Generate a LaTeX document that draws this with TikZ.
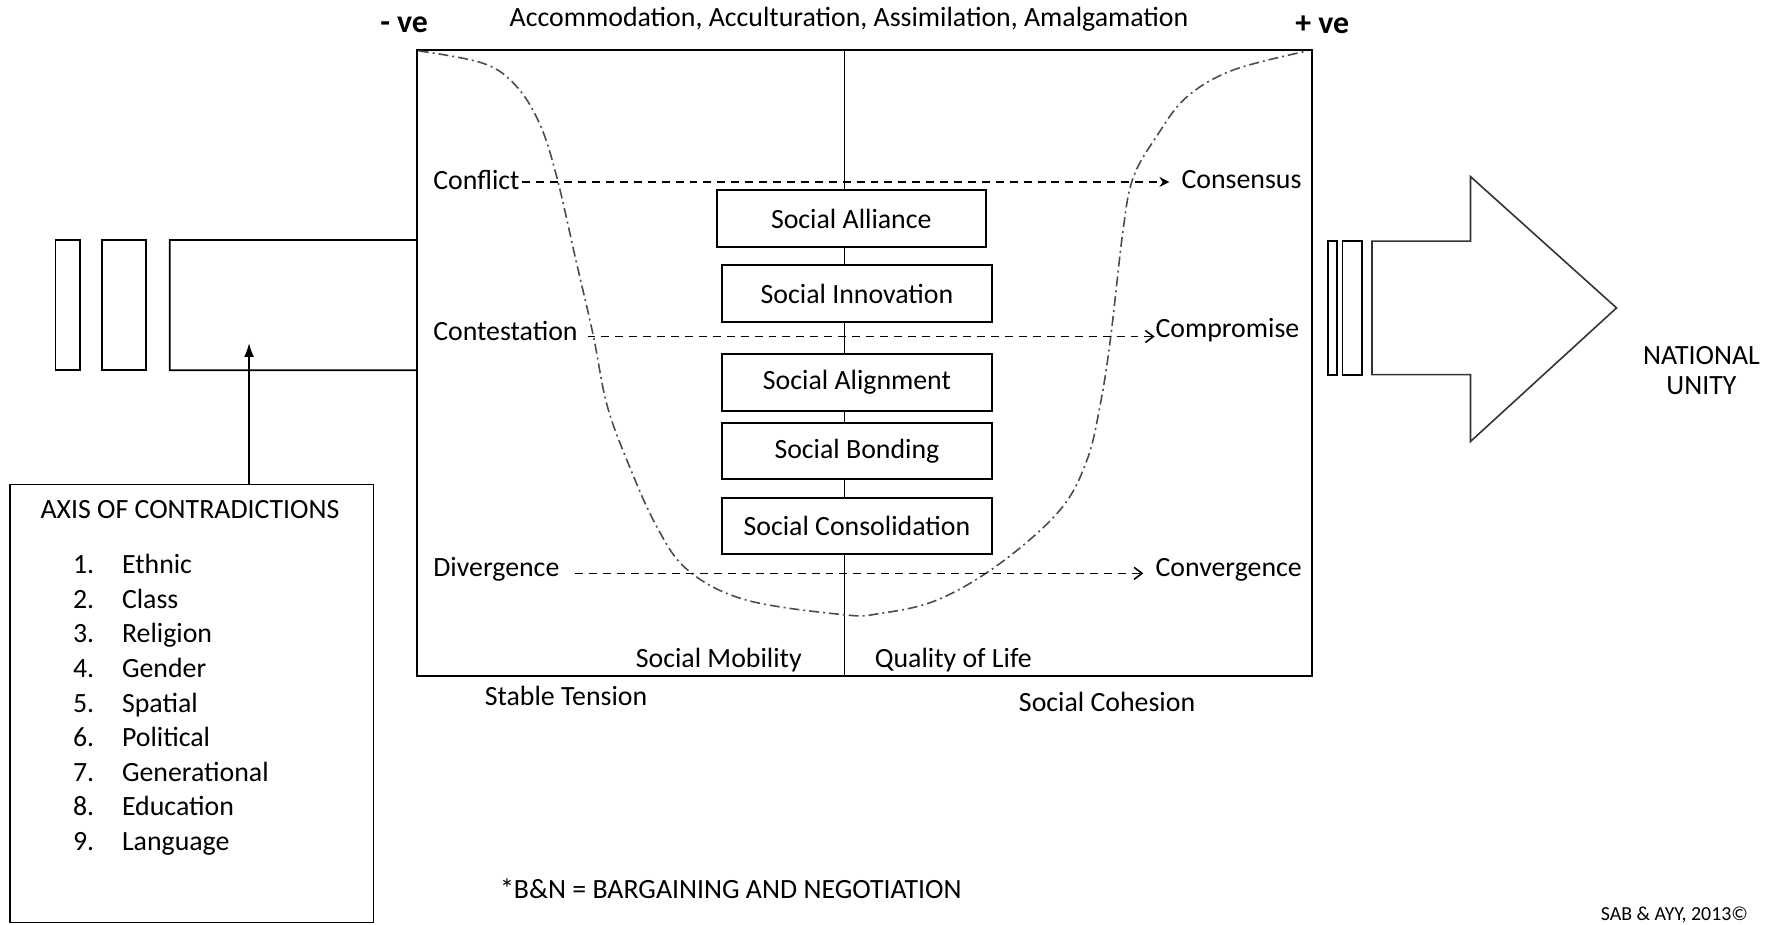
\documentclass[tikz,border=0pt]{standalone}
\usepackage{fontspec}
\setmainfont{Carlito}
\usetikzlibrary{arrows.meta}
\usetikzlibrary{graphs}
\tikzset{
  lbl/.style= {inner sep=0, font=\fontsize{14}{15}\selectfont},
  sbox/.style= {draw, fill=white, line width=1pt, minimum width=4.76cm, minimum height=1cm, inner sep=0, font=\fontsize{14}{15}\selectfont},
  sign/.style= {inner sep=0, font=\fontsize{16}{18}\selectfont\bfseries},
  plain/.style= {draw, inner sep=0, outer sep=0},
  move/.style= {line width=0.8pt, dash pattern=on 4pt off 3pt, -{Straight Barb[length=4pt,width=6pt]}},
  udash/.style= {line width=0.8pt, black!70, dash pattern=on 5pt off 2pt on 1pt off 2pt},
}

\begin{document}
\begin{tikzpicture}[x=0.02cm, y=-0.02cm, line width=0.9pt]
  \useasboundingbox (0,0) rectangle (1568,817);

  \node [plain, minimum width=15.82cm, minimum height=11.06cm] (frame) at (763.5,320.5) {};
  \coordinate (mtop) at (746,44);
  \coordinate (mbot) at (746,597);
  \draw (mtop) -- (mbot);

  \node [sign] (neg) at (357,22) {- ve};
  \node [sign] (pos) at (1168,22) {+ ve};
  \node [lbl] (stages) at (750,17) {Accommodation, Acculturation, Assimilation, Amalgamation};

  \draw [udash] plot [smooth, tension=0.6] coordinates {(370,45) (427,56) (456,76) (477,110) (492,157) (509,231) (524,296) (536,357) (554,407) (580,465) (608,504) (659,530) (745,543) (777,542) (828,530) (883,498) (936,451) (960,407) (972,357) (981,299) (992,204) (1001,157) (1022,120) (1048,86) (1089,62) (1155,45)};

  \node [sbox] (alliance) at (752,193) {Social Alliance};
  \node [sbox] (innovation) at (757,259.5) {Social Innovation};
  \node [sbox] (alignment) at (757,338) {Social Alignment};
  \node [sbox] (bonding) at (757,398.5) {Social Bonding};
  \node [sbox] (consolidation) at (757,464.5) {Social Consolidation};

  \node [lbl, anchor=west] (conflict) at (382,159) {Conflict};
  \node [lbl, anchor=west] (consensus) at (1043,159) {Consensus};
  \node [lbl, anchor=west] (contest) at (382,292) {Contestation};
  \node [lbl, anchor=west] (compromise) at (1020,292) {Compromise};
  \node [lbl, anchor=west] (diverge) at (382,503) {Divergence};
  \node [lbl, anchor=west] (converge) at (1020,503) {Convergence};

  \draw [move, -{Stealth[length=5pt,width=5pt]}] ([xshift=1pt, yshift=-1pt]conflict.east) -- ([xshift=-0.2cm, yshift=-1pt]consensus.west);
  \draw [move] ([xshift=0.16cm, yshift=-3pt]contest.east) -- ([yshift=-3pt]compromise.west);
  \draw [move] ([xshift=0.26cm, yshift=-2pt]diverge.east) -- ([xshift=-0.2cm, yshift=-2pt]converge.west);

  \node [lbl, anchor=east] (mobility) at (709,583) {Social Mobility};
  \node [lbl, anchor=west] (quality) at (772,583) {Quality of Life};
  \node [lbl] (tension) at (500,615) {Stable Tension};
  \node [lbl] (cohesion) at (978,620) {Social Cohesion};

  \node [plain, minimum width=0.44cm, minimum height=2.3cm] (l1) at (60,269.5) {};
  \node [plain, minimum width=0.78cm, minimum height=2.3cm] (l2) at (109.5,269.5) {};
  \draw (frame.west |- l1.north) -| (150,327) -- (frame.west |- l1.south);

  \node [plain, minimum width=6.42cm, minimum height=7.74cm] (axis) at (169.5,621.5) {};
  \draw [-{Latex[length=7pt, width=5pt]}] (axis.north -| 220,0) -- (220,303);
  \node [lbl, anchor=west] (axistitle) at (35,450) {AXIS OF CONTRADICTIONS};
  \foreach \w [count=\i] in {Ethnic, Class, Religion, Gender, Spatial, Political, Generational, Education, Language} {
    \node [lbl, anchor=base east] (num\i) at (84,{507+(\i-1)*30.5}) {\i.};
    \node [lbl, anchor=base west] (item\i) at (107,{507+(\i-1)*30.5}) {\w};
  }

  \node [plain, minimum width=0.16cm, minimum height=2.36cm] (r1) at (1177,272) {};
  \node [plain, minimum width=0.34cm, minimum height=2.36cm] (r2) at (1194.5,272) {};
  \draw [line width=0.8pt, black!80] (1212,213) -- (1299,213) -- (1299,156) -- (1428,272) -- (1299,390) -- (1299,331) -- (1212,331) -- cycle;
  \node [lbl, align=center] (unity) at (1503,327) {NATIONAL\\UNITY};

  \node [lbl, anchor=west] (note) at (441,785) {*B\&N = BARGAINING AND NEGOTIATION};
  \node [inner sep=0, anchor=east, font=\fontsize{10}{12}\selectfont] (credit) at (1545,808) {SAB \& AYY, 2013©};
\end{tikzpicture}
\end{document}
